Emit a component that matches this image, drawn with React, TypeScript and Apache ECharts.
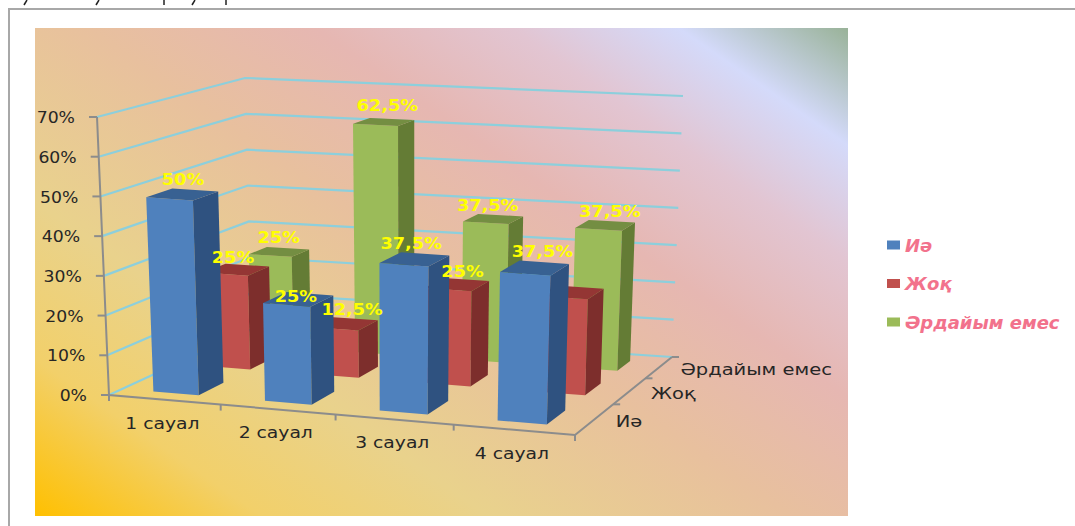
import React, { useEffect, useRef } from "react";
import * as echarts from "echarts";

const categories = ["1 сауал", "2 сауал", "3 сауал", "4 сауал"];
const depthNames = ["Иә", "Жоқ", "Әрдайым емес"];
const yesValues = [50, 25, 37.5, 37.5];
const noValues = [25, 12.5, 25, 25];
const sometimesValues = [25, 62.5, 37.5, 37.5];
const yesLabels = ["50%", "25%", "37,5%", "37,5%"];
const noLabels = ["25%", "12,5%", "25%", null];
const sometimesLabels = ["25%", "62,5%", "37,5%", "37,5%"];
const valueTicks = [0, 10, 20, 30, 40, 50, 60, 70];

const FONT = '"DejaVu Sans"';
const PALETTE = [
  { front: "#4F81BD", side: "#2F5280", top: "#386192" },
  { front: "#C0504D", side: "#7D2E2C", top: "#943634" },
  { front: "#9BBB59", side: "#647C35", top: "#748E42" },
];

// Box corners on screen: [x, y] for the floor and for the 70% level.
const BOX = {
  fl: [109, 395], fr: [575, 435], bl: [252, 329], br: [672, 357],
  flTop: [97, 117], frTop: [583, 150], blTop: [245, 78], brTop: [683, 96],
};
const BAR_WIDTH = 0.41;
const BAR_SHIFT_U = -0.003;
const BAR_DEPTH = 0.46;
const BAR_SHIFT_V = -0.015;
const BAR_RISE = 0.985;
// Hand placement of the data labels around each bar top, per series then category.
const LABEL_NUDGE = [
  [[-1, -1], [-4, 12], [-5, -1], [6, -2]],
  [[-5, 2], [5, 0], [4, 1], [0, 0]],
  [[-2, 0], [2, -2], [-7, 1], [3, 1]],
];

const mix = (a: number[], b: number[], t: number) => [a[0] + (b[0] - a[0]) * t, a[1] + (b[1] - a[1]) * t];

// Maps u (along categories), v (into the depth) and h (value share) to the screen.
function project(u: number, v: number, h: number) {
  const uu = u - 0.055 * u * (1 - u);
  const vv = v + 0.27 * v * (1 - v);
  const floor = mix(mix(BOX.fl, BOX.fr, uu), mix(BOX.bl, BOX.br, uu), vv);
  const roof = mix(mix(BOX.flTop, BOX.frTop, uu), mix(BOX.blTop, BOX.brTop, uu), vv);
  return mix(floor, roof, h);
}

function unitPosition(params: any, api: any, index: number, value: number) {
  const grid = params.coordSys;
  const pt = api.coord([index, value]);
  return {
    u: (pt[0] - grid.x) / grid.width,
    h: (grid.y + grid.height - pt[1]) / grid.height,
    band: api.size([1, 0])[0] / grid.width,
  };
}

const face = (points: number[][], fill: string) => ({
  type: "polygon",
  shape: { points },
  style: { fill, stroke: null },
});

const barSeries = (name: string, depth: number, values: number[]) => ({
  type: "custom",
  name,
  z: 7 - depth,
  itemStyle: { color: PALETTE[depth].front },
  data: values.map((v, i) => [i, v]),
  renderItem: (params: any, api: any) => {
    const pos = unitPosition(params, api, api.value(0), api.value(1));
    const h = pos.h * BAR_RISE;
    const u0 = pos.u + BAR_SHIFT_U - (pos.band * BAR_WIDTH) / 2;
    const u1 = pos.u + BAR_SHIFT_U + (pos.band * BAR_WIDTH) / 2;
    const v0 = (depth + 0.5 - BAR_DEPTH / 2) / 3 + BAR_SHIFT_V;
    const v1 = (depth + 0.5 + BAR_DEPTH / 2) / 3 + BAR_SHIFT_V;
    const c = PALETTE[depth];
    return {
      type: "group",
      children: [
        face([project(u0, v0, 0), project(u1, v0, 0), project(u1, v0, h), project(u0, v0, h)], c.front),
        face([project(u1, v0, 0), project(u1, v1, 0), project(u1, v1, h), project(u1, v0, h)], c.side),
        face([project(u0, v0, h), project(u1, v0, h), project(u1, v1, h), project(u0, v1, h)], c.top),
      ],
    };
  },
});

const textItem = (x: number, y: number, text: string, font: string, fill: string, align: string, scaleX = 1.15) => ({
  type: "text",
  x,
  y,
  scaleX,
  style: { text, font, fill, align, verticalAlign: "middle", textAlign: align, textVerticalAlign: "middle" },
});

const labelSeries = (depth: number, values: number[], labels: (string | null)[]) => ({
  type: "custom",
  z: 20,
  data: values.map((v, i) => [i, v]),
  renderItem: (params: any, api: any) => {
    const index = api.value(0);
    const text = labels[index];
    if (!text) return null;
    const { u, h } = unitPosition(params, api, index, api.value(1));
    const p = project(u, (depth + 0.5) / 3 + BAR_SHIFT_V, h * BAR_RISE);
    const [dx, dy] = LABEL_NUDGE[depth][index];
    return textItem(p[0] + dx, p[1] - 14 + dy, text, `bold 15px ${FONT}`, "#FFFF00", "center", 1.18);
  },
});

const wallSeries = {
  type: "custom",
  z: 3,
  data: valueTicks.map((t) => [0, t]),
  renderItem: (params: any, api: any) => {
    const { h } = unitPosition(params, api, 0, api.value(1));
    const a = project(0, 0, h);
    const b = project(0, 1, h);
    const c = project(1, 1, h);
    return {
      type: "group",
      children: [
        { type: "polyline", shape: { points: [a, b, c] }, style: { fill: null, stroke: "#8CCFDC", lineWidth: 2.2 } },
        { type: "line", shape: { x1: a[0], y1: a[1], x2: a[0] - 8, y2: a[1] }, style: { stroke: "#8C8C8C", lineWidth: 2 } },
        textItem(a[0] - 22, a[1] + 1, `${api.value(1)}%`, `15px ${FONT}`, "#262626", "right"),
      ],
    };
  },
};

const floorAxisSeries = {
  type: "custom",
  z: 4,
  data: [[0, 0]],
  renderItem: () => {
    const edge = { fill: null, stroke: "#8C8C8C", lineWidth: 2 };
    const children: any[] = [
      { type: "polyline", shape: { points: [project(0, 0, 1), project(0, 0, 0), project(1, 0, 0), project(1, 1, 0)] }, style: edge },
    ];
    for (let i = 0; i <= categories.length; i++) {
      const p = project(i / categories.length, 0, 0);
      children.push({ type: "line", shape: { x1: p[0], y1: p[1], x2: p[0], y2: p[1] + 6 }, style: { stroke: "#8C8C8C", lineWidth: 2 } });
    }
    for (let d = 1; d <= depthNames.length; d++) {
      const p = project(1, d / depthNames.length, 0);
      children.push({ type: "line", shape: { x1: p[0], y1: p[1], x2: p[0] + 7, y2: p[1] }, style: { stroke: "#8C8C8C", lineWidth: 2 } });
    }
    categories.forEach((name, i) => {
      const p = project((i + 0.5) / categories.length, 0, 0);
      children.push(textItem(p[0] - 2, p[1] + 23.5, name, `15px ${FONT}`, "#262626", "center", 1.25));
    });
    depthNames.forEach((name, d) => {
      const p = project(1, (d + 0.5) / depthNames.length, 0);
      children.push(textItem(p[0] + 21, p[1] + 3, name, `15px ${FONT}`, "#262626", "left", 1.3));
    });
    return { type: "group", children };
  },
};

export default function App() {
  const ref = useRef<HTMLDivElement>(null);
  useEffect(() => {
    const chart = echarts.init(ref.current!, undefined, { renderer: "svg" });
    chart.setOption({
      animation: false,
      // Flat grid holds the scales; the custom series project it into the box.
      grid: { left: 100, top: 100, width: 400, height: 200, show: false },
      xAxis: { type: "category", data: categories, show: false },
      yAxis: { type: "value", min: 0, max: 70, interval: 10, show: false },
      legend: {
        orient: "vertical",
        left: 887,
        top: 236,
        padding: 0,
        icon: "rect",
        itemWidth: 13,
        itemHeight: 9,
        itemGap: 20.5,
        data: depthNames,
        selectedMode: false,
        textStyle: { color: "#F2728C", fontFamily: FONT, fontWeight: "bold", fontStyle: "italic", fontSize: 18, lineHeight: 16 },
      },
      graphic: [
        { type: "polyline", z: 0, shape: { points: [[9, 526], [9, 9], [1075, 9]] }, style: { fill: null, stroke: "#A8A8A8", lineWidth: 2 } },
        {
          type: "rect",
          z: 0,
          shape: { x: 35, y: 28, width: 813, height: 488 },
          style: {
            fill: {
              type: "linear",
              global: true,
              x: 35,
              y: 516,
              x2: 526,
              y2: -193,
              colorStops: [
                { offset: 0, color: "#FFC000" },
                { offset: 0.15, color: "#F2D06A" },
                { offset: 0.3, color: "#E9D28C" },
                { offset: 0.5, color: "#E8C09E" },
                { offset: 0.65, color: "#E6B7B2" },
                { offset: 0.78, color: "#E2C5D2" },
                { offset: 0.89, color: "#D4DAFA" },
                { offset: 1, color: "#9AB39A" },
              ],
            },
          },
        },
        // Descenders of the line of text cut off by the page's top edge.
        ...[[27, 24], [99, 96], [164, 164], [195, 192], [226, 226]].map(([a, b]) => ({
          type: "line",
          z: 0,
          shape: { x1: a, y1: 0, x2: b, y2: 5 },
          style: { stroke: "#222", lineWidth: 1.5 },
        })),
      ],
      series: [
        wallSeries,
        floorAxisSeries,
        barSeries(depthNames[2], 2, sometimesValues),
        barSeries(depthNames[1], 1, noValues),
        barSeries(depthNames[0], 0, yesValues),
        labelSeries(2, sometimesValues, sometimesLabels),
        labelSeries(1, noValues, noLabels),
        labelSeries(0, yesValues, yesLabels),
      ],
    });
    return () => chart.dispose();
  }, []);
  return <div ref={ref} style={{ position: "fixed", left: 0, top: 0, width: 1075, height: 526, background: "#fff" }} />;
}
